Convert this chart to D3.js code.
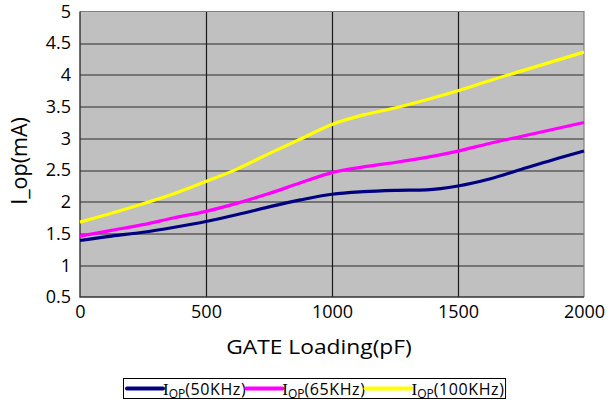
<!DOCTYPE html>
<html>
<head>
<meta charset="utf-8">
<script src="https://cdn.jsdelivr.net/npm/d3@7"></script>
<style>
  body { margin: 0; background: #fff; }
  svg { display: block; font-family: "Open Sans", "Noto Sans", sans-serif; }
</style>
</head>
<body>
<svg id="chart" width="610" height="405"></svg>
<script>
// gate loading in pF
var loading = [0, 125, 250, 375, 500, 625, 750, 875, 1000, 1125, 1250, 1375, 1500, 1625, 1750, 1875, 2000]
var iop50 = [1.39, 1.46, 1.52, 1.60, 1.69, 1.80, 1.92, 2.03, 2.12, 2.16, 2.18, 2.19, 2.25, 2.36, 2.51, 2.66, 2.80]
var iop65 = [1.46, 1.55, 1.64, 1.75, 1.85, 1.98, 2.13, 2.30, 2.46, 2.55, 2.62, 2.70, 2.80, 2.92, 3.03, 3.14, 3.25]
var iop100 = [1.68, 1.82, 1.97, 2.13, 2.32, 2.52, 2.76, 2.99, 3.22, 3.37, 3.48, 3.61, 3.75, 3.91, 4.06, 4.21, 4.36]
var xTicks = [0, 500, 1000, 1500, 2000]
var yTicks = [0.5, 1, 1.5, 2, 2.5, 3, 3.5, 4, 4.5, 5]
var seriesNames = ["50KHz", "65KHz", "100KHz"]
var seriesColors = ["#000080", "#ff00ff", "#ffff00"]

var series = [iop50, iop65, iop100].map(function(vals, i){
    return { name: seriesNames[i], color: seriesColors[i], values: vals.map(function(v, j){ return { x: loading[j], y: v } }) }
})

var margin = { top: 11.5, right: 26, bottom: 108, left: 80 },
    w = 610 - margin.left - margin.right,
    h = 405 - margin.top - margin.bottom;

var svg = d3.select("#chart")
var g = svg.append("g").attr("transform", `translate(${margin.left}, ${margin.top})`)

var x = d3.scaleLinear().domain([0, 2000]).range([0, w])
var y = d3.scaleLinear().domain([0.5, 5]).range([h, 0])

// plot background
g.append("rect").attr("width", w).attr("height", h).attr("fill", "#c0c0c0")

// grid
g.selectAll(".hgrid")
    .data(yTicks.filter(function(d){ return d > 0.5 && d < 5 }))
    .join("line")
    .attr("x1", 0).attr("x2", w)
    .attr("y1", function(d){ return Math.round(y(d)) + 0.5 })
    .attr("y2", function(d){ return Math.round(y(d)) + 0.5 })
    .attr("stroke", "#2b2b2b").attr("stroke-width", 1.2)
g.selectAll(".vgrid")
    .data(xTicks.filter(function(d){ return d > 0 && d < 2000 }))
    .join("line")
    .attr("x1", function(d){ return Math.round(x(d)) + 0.5 })
    .attr("x2", function(d){ return Math.round(x(d)) + 0.5 })
    .attr("y1", 0).attr("y2", h)
    .attr("stroke", "#1a1a1a").attr("stroke-width", 1.2)

// frame
g.append("path").attr("d", `M0,0H${w}V${h}`).attr("fill", "none").attr("stroke", "#808080").attr("stroke-width", 1.2)
g.append("path").attr("d", `M0,0V${h}H${w}`).attr("fill", "none").attr("stroke", "#333").attr("stroke-width", 1.4)

// axes
var xAxis = d3.axisBottom(x).tickValues(xTicks).tickSize(0).tickPadding(8).tickFormat(d3.format("d"))
var yAxis = d3.axisLeft(y).tickValues(yTicks).tickSize(0).tickPadding(9).tickFormat(function(d){ return String(d) })

g.append("g").attr("transform", `translate(0, ${h})`).call(xAxis)
    .call(function(s){ s.select(".domain").remove() })
    .selectAll("text").attr("font-size", "18px").attr("fill", "#000").attr("font-family", "Open Sans")
g.append("g").call(yAxis)
    .call(function(s){ s.select(".domain").remove() })
    .selectAll("text").attr("font-size", "18px").attr("fill", "#000").attr("font-family", "Open Sans")

// lines
var line = d3.line()
    .x(function(d){ return x(d.x) })
    .y(function(d){ return y(d.y) })
    .curve(d3.curveMonotoneX)

g.selectAll(".series")
    .data(series)
    .join("path")
    .attr("d", function(d){ return line(d.values) })
    .attr("fill", "none")
    .attr("stroke", function(d){ return d.color })
    .attr("stroke-width", 3.2)

// axis titles
svg.append("text")
    .attr("transform", "translate(319, 354) scale(1.14, 1)")
    .attr("text-anchor", "middle")
    .attr("font-size", "20px")
    .text("GATE Loading(pF)")

svg.append("text")
    .attr("transform", "rotate(-90)")
    .attr("x", -161)
    .attr("y", 27)
    .attr("text-anchor", "middle")
    .attr("font-size", "21.5px")
    .text("I_op(mA)")

// legend
var legend = svg.append("g")
var box = legend.append("rect")
    .attr("x", 123.5).attr("y", 378.5).attr("height", 20)
    .attr("fill", "#fff").attr("stroke", "#000").attr("stroke-width", 1)

var legendLine = [36, 36, 46]
var lx = 127
series.forEach(function(s, i){
    legend.append("line")
        .attr("x1", lx).attr("x2", lx + legendLine[i])
        .attr("y1", 388.5).attr("y2", 388.5)
        .attr("stroke", s.color).attr("stroke-width", 4).attr("stroke-linecap", "round")
    var t = legend.append("text")
        .attr("x", lx + legendLine[i])
        .attr("y", 394.5)
        .attr("font-size", "16px")
    t.append("tspan").attr("font-family", "Liberation Serif").attr("font-size", "17px").text("I")
    t.append("tspan").attr("dy", 3).attr("font-size", "12px").text("OP")
    t.append("tspan").attr("dy", -3).attr("letter-spacing", "0.6px").text("(" + s.name + ")")
    lx = lx + legendLine[i] + t.node().getComputedTextLength()
})
box.attr("width", lx - 123.5 + 1)
</script>
</body>
</html>
